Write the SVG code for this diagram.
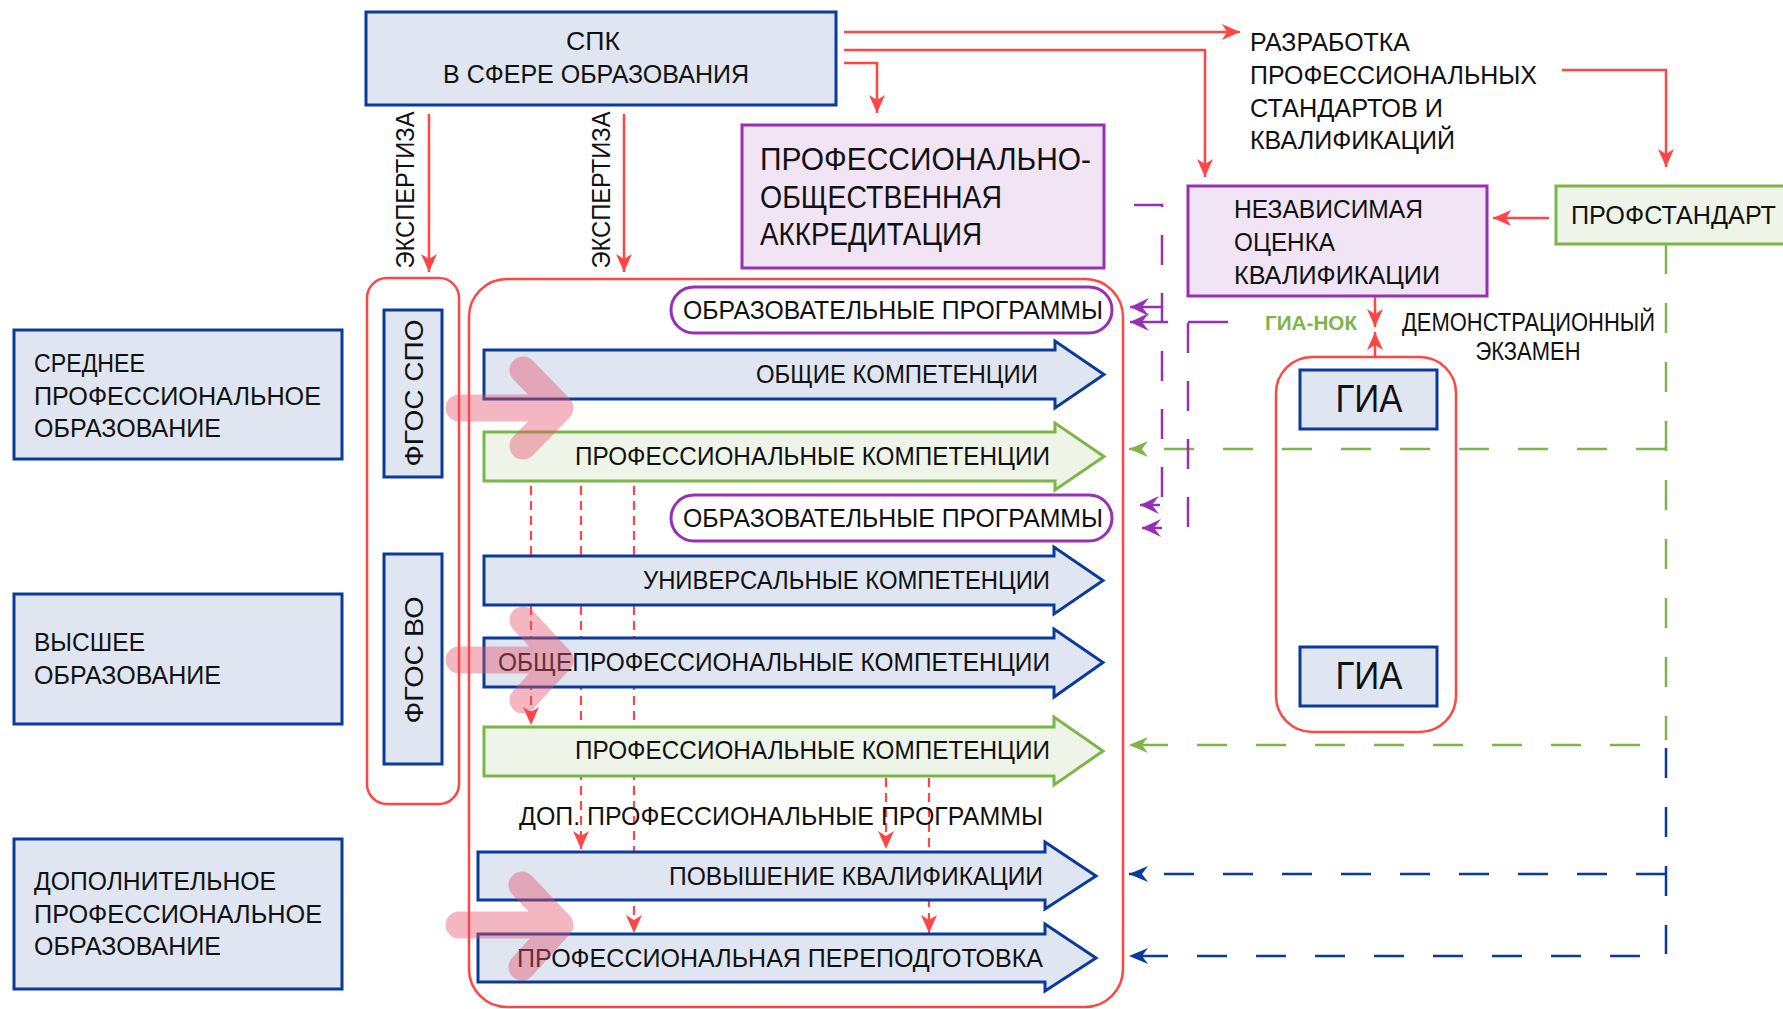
<svg xmlns="http://www.w3.org/2000/svg" width="1783" height="1009" viewBox="0 0 1783 1009">
<style>
text{font-family:"Liberation Sans",Arial,sans-serif;fill:#111;font-size:25px}
.f26{font-size:26px}
.f31{font-size:31px}
.f38{font-size:39px}
.nok{font-size:20px;font-weight:bold;fill:#7db548}
.bx{fill:#dfe6f2;stroke:#0a3a9a;stroke-width:3}
.gb{fill:#eef4e8;stroke:#7db548;stroke-width:3}
.pb{fill:#f1e4f5;stroke:#9630b4;stroke-width:3}
.pill{fill:#fff;stroke:#9630b4;stroke-width:3}
.rc{fill:none;stroke:#ff4646;stroke-width:2.5}
.rl{fill:none;stroke:#ff4646;stroke-width:2.5}
.rd{fill:none;stroke:#ff4646;stroke-width:2.2;stroke-dasharray:9 6}
.gd{fill:none;stroke:#7db548;stroke-width:2.5;stroke-dasharray:30 29}
.bd{fill:none;stroke:#0a3a9a;stroke-width:2.5;stroke-dasharray:30 29}
.pd{fill:none;stroke:#9630b4;stroke-width:2.5;stroke-dasharray:30 28}
.pl{fill:none;stroke:#9630b4;stroke-width:2.5}
.pk{fill:none;stroke:#e55169;stroke-width:27;stroke-linecap:round;stroke-linejoin:round}
</style>
<defs>
<marker id="mr" markerUnits="userSpaceOnUse" markerWidth="20" markerHeight="16" viewBox="0 0 20 16" refX="18" refY="8" orient="auto"><path d="M0,0 L18,8 L0,16 L5,8 z" fill="#ff4646"/></marker>
<marker id="mp" markerUnits="userSpaceOnUse" markerWidth="20" markerHeight="18" viewBox="0 0 20 18" refX="19" refY="9" orient="auto"><path d="M0,0 L19,9 L0,18 L7,9 z" fill="#9630b4"/></marker>
<marker id="mg" markerUnits="userSpaceOnUse" markerWidth="20" markerHeight="16" viewBox="0 0 20 16" refX="19" refY="8" orient="auto"><path d="M0,0 L19,8 L0,16 L6,8 z" fill="#7db548"/></marker>
<marker id="mb" markerUnits="userSpaceOnUse" markerWidth="20" markerHeight="16" viewBox="0 0 20 16" refX="19" refY="8" orient="auto"><path d="M0,0 L19,8 L0,16 L6,8 z" fill="#0a3a9a"/></marker>
</defs>

<!-- containers -->
<g id="container-fgos"><rect class="rc" x="367" y="278" width="92" height="526" rx="20"/></g>
<g id="container-main"><rect class="rc" x="469" y="279" width="654" height="728" rx="38"/></g>
<g id="container-gia"><rect class="rc" x="1276" y="357" width="180" height="375" rx="36"/></g>

<!-- connectors -->
<g id="connectors">
<path class="rl" d="M844,32 H1240" marker-end="url(#mr)"/>
<path class="rl" d="M844,50 H1205 V177" marker-end="url(#mr)"/>
<path class="rl" d="M844,63 H877 V113" marker-end="url(#mr)"/>
<path class="rl" d="M1562,70 H1666 V167" marker-end="url(#mr)"/>
<path class="rl" d="M1549,218 H1493" marker-end="url(#mr)"/>
<path class="rl" d="M429,114 V272" marker-end="url(#mr)"/>
<path class="rl" d="M624,114 V272" marker-end="url(#mr)"/>
<path class="rl" d="M1375,297 V327" marker-end="url(#mr)"/>
<path class="rl" d="M1375,357 V332" marker-end="url(#mr)"/>
<path class="rd" d="M531,486 V725" marker-end="url(#mr)"/>
<path class="rd" d="M581,486 V849" marker-end="url(#mr)"/>
<path class="rd" d="M634,486 V933" marker-end="url(#mr)"/>
<path class="rd" d="M886,778 V849" marker-end="url(#mr)"/>
<path class="rd" d="M929,778 V933" marker-end="url(#mr)"/>
<path class="gd" d="M1666,244 V740"/>
<path class="gd" d="M1666,449 H1129" marker-end="url(#mg)"/>
<path class="gd" d="M1640,745 H1129" marker-end="url(#mg)"/>
<path class="bd" d="M1666,748 V954"/>
<path class="bd" d="M1666,874 H1129" marker-end="url(#mb)"/>
<path class="bd" d="M1640,956 H1129" marker-end="url(#mb)"/>
<path class="pd" d="M1106,205 H1162 V505" stroke-dashoffset="30"/>
<path class="pl" d="M1162,307 H1130" marker-end="url(#mp)"/>
<path class="pl" d="M1228,322 H1188"/>
<path class="pl" d="M1168,322 H1130" marker-end="url(#mp)"/>
<path class="pd" d="M1188,323 V530"/>
<path class="pl" d="M1160,505 H1140" marker-end="url(#mp)"/>
<path class="pl" d="M1162,528 H1142" marker-end="url(#mp)"/>
</g>

<!-- nodes -->
<g id="spk">
<rect class="bx" x="366" y="12" width="470" height="93"/>
<text x="593" y="50" text-anchor="middle" textLength="54" lengthAdjust="spacingAndGlyphs">СПК</text>
<text x="596" y="83" text-anchor="middle" textLength="306" lengthAdjust="spacingAndGlyphs">В СФЕРЕ ОБРАЗОВАНИЯ</text>
</g>
<g id="ekspertiza-1"><text class="f26" transform="translate(414,190) rotate(-90)" text-anchor="middle" textLength="157" lengthAdjust="spacingAndGlyphs">ЭКСПЕРТИЗА</text></g>
<g id="ekspertiza-2"><text class="f26" transform="translate(610,190) rotate(-90)" text-anchor="middle" textLength="157" lengthAdjust="spacingAndGlyphs">ЭКСПЕРТИЗА</text></g>

<g id="razrabotka">
<text x="1250" y="51" textLength="160" lengthAdjust="spacingAndGlyphs">РАЗРАБОТКА</text>
<text x="1250" y="84" textLength="287" lengthAdjust="spacingAndGlyphs">ПРОФЕССИОНАЛЬНЫХ</text>
<text x="1250" y="117" textLength="193" lengthAdjust="spacingAndGlyphs">СТАНДАРТОВ И</text>
<text x="1250" y="149" textLength="205" lengthAdjust="spacingAndGlyphs">КВАЛИФИКАЦИЙ</text>
</g>

<g id="akkreditaciya">
<rect class="pb" x="742" y="125" width="362" height="143"/>
<text class="f31" x="760" y="170" textLength="331" lengthAdjust="spacingAndGlyphs">ПРОФЕССИОНАЛЬНО-</text>
<text class="f31" x="760" y="208" textLength="242" lengthAdjust="spacingAndGlyphs">ОБЩЕСТВЕННАЯ</text>
<text class="f31" x="760" y="245" textLength="222" lengthAdjust="spacingAndGlyphs">АККРЕДИТАЦИЯ</text>
</g>

<g id="nok">
<rect class="pb" x="1188" y="186" width="299" height="110"/>
<text x="1234" y="218" textLength="189" lengthAdjust="spacingAndGlyphs">НЕЗАВИСИМАЯ</text>
<text x="1234" y="251" textLength="101" lengthAdjust="spacingAndGlyphs">ОЦЕНКА</text>
<text x="1234" y="284" textLength="206" lengthAdjust="spacingAndGlyphs">КВАЛИФИКАЦИИ</text>
</g>

<g id="profstandart">
<rect class="gb" x="1556" y="186" width="240" height="58"/>
<text x="1571" y="224" textLength="205" lengthAdjust="spacingAndGlyphs">ПРОФСТАНДАРТ</text>
</g>

<g id="gia-nok-label"><text class="nok" x="1265" y="330" textLength="92" lengthAdjust="spacingAndGlyphs">ГИА-НОК</text></g>
<g id="demo-exam">
<text x="1402" y="331" textLength="253" lengthAdjust="spacingAndGlyphs">ДЕМОНСТРАЦИОННЫЙ</text>
<text x="1528" y="360" text-anchor="middle" textLength="105" lengthAdjust="spacingAndGlyphs">ЭКЗАМЕН</text>
</g>

<g id="gia-1">
<rect class="bx" x="1300" y="370" width="137" height="59"/>
<text class="f38" x="1369" y="412" text-anchor="middle" textLength="67" lengthAdjust="spacingAndGlyphs">ГИА</text>
</g>
<g id="gia-2">
<rect class="bx" x="1300" y="647" width="137" height="59"/>
<text class="f38" x="1369" y="689" text-anchor="middle" textLength="67" lengthAdjust="spacingAndGlyphs">ГИА</text>
</g>

<g id="spo">
<rect class="bx" x="14" y="330" width="328" height="129"/>
<text x="34" y="372" textLength="111" lengthAdjust="spacingAndGlyphs">СРЕДНЕЕ</text>
<text x="34" y="405" textLength="287" lengthAdjust="spacingAndGlyphs">ПРОФЕССИОНАЛЬНОЕ</text>
<text x="34" y="437" textLength="187" lengthAdjust="spacingAndGlyphs">ОБРАЗОВАНИЕ</text>
</g>
<g id="vo">
<rect class="bx" x="14" y="594" width="328" height="130"/>
<text x="34" y="651" textLength="111" lengthAdjust="spacingAndGlyphs">ВЫСШЕЕ</text>
<text x="34" y="684" textLength="187" lengthAdjust="spacingAndGlyphs">ОБРАЗОВАНИЕ</text>
</g>
<g id="dpo">
<rect class="bx" x="14" y="839" width="328" height="150"/>
<text x="34" y="890" textLength="242" lengthAdjust="spacingAndGlyphs">ДОПОЛНИТЕЛЬНОЕ</text>
<text x="34" y="923" textLength="288" lengthAdjust="spacingAndGlyphs">ПРОФЕССИОНАЛЬНОЕ</text>
<text x="34" y="955" textLength="187" lengthAdjust="spacingAndGlyphs">ОБРАЗОВАНИЕ</text>
</g>

<g id="fgos-spo">
<rect class="bx" x="384" y="310" width="58" height="167"/>
<text class="f26" transform="translate(423,393) rotate(-90)" text-anchor="middle" textLength="147" lengthAdjust="spacingAndGlyphs">ФГОС  СПО</text>
</g>
<g id="fgos-vo">
<rect class="bx" x="384" y="554" width="58" height="210"/>
<text class="f26" transform="translate(423,660) rotate(-90)" text-anchor="middle" textLength="127" lengthAdjust="spacingAndGlyphs">ФГОС  ВО</text>
</g>

<g id="op-1">
<rect class="pill" x="671" y="287" width="441" height="46" rx="23"/>
<text x="893" y="319" text-anchor="middle" textLength="420" lengthAdjust="spacingAndGlyphs">ОБРАЗОВАТЕЛЬНЫЕ ПРОГРАММЫ</text>
</g>
<g id="ok">
<polygon class="bx" points="484,350 1055,350 1055,341 1104,374.5 1055,408 1055,399 484,399"/>
<text x="1038" y="383" text-anchor="end" textLength="282" lengthAdjust="spacingAndGlyphs">ОБЩИЕ КОМПЕТЕНЦИИ</text>
</g>
<g id="pk-1">
<polygon class="gb" points="484,432 1055,432 1055,423 1104,456.5 1055,490 1055,481 484,481"/>
<text x="1050" y="465" text-anchor="end" textLength="475" lengthAdjust="spacingAndGlyphs">ПРОФЕССИОНАЛЬНЫЕ КОМПЕТЕНЦИИ</text>
</g>
<g id="op-2">
<rect class="pill" x="671" y="495" width="441" height="46" rx="23"/>
<text x="893" y="527" text-anchor="middle" textLength="420" lengthAdjust="spacingAndGlyphs">ОБРАЗОВАТЕЛЬНЫЕ ПРОГРАММЫ</text>
</g>
<g id="uk">
<polygon class="bx" points="484,556 1054,556 1054,547 1103,580.5 1054,614 1054,605 484,605"/>
<text x="1050" y="589" text-anchor="end" textLength="407" lengthAdjust="spacingAndGlyphs">УНИВЕРСАЛЬНЫЕ КОМПЕТЕНЦИИ</text>
</g>
<g id="opk">
<polygon class="bx" points="484,638 1054,638 1054,629 1103,662.5 1054,697 1054,687 484,687"/>
<text x="1050" y="671" text-anchor="end" textLength="552" lengthAdjust="spacingAndGlyphs">ОБЩЕПРОФЕССИОНАЛЬНЫЕ КОМПЕТЕНЦИИ</text>
</g>
<g id="pk-2">
<polygon class="gb" points="484,727 1054,727 1054,717 1103,751 1054,785 1054,776 484,776"/>
<text x="1050" y="759" text-anchor="end" textLength="475" lengthAdjust="spacingAndGlyphs">ПРОФЕССИОНАЛЬНЫЕ КОМПЕТЕНЦИИ</text>
</g>
<g id="dpp-label">
<text x="1043" y="825" text-anchor="end" textLength="524" lengthAdjust="spacingAndGlyphs">ДОП. ПРОФЕССИОНАЛЬНЫЕ ПРОГРАММЫ</text>
</g>
<g id="pkv">
<polygon class="bx" points="478,852 1045,852 1045,842 1096,876 1045,909 1045,900 478,900"/>
<text x="1043" y="885" text-anchor="end" textLength="374" lengthAdjust="spacingAndGlyphs">ПОВЫШЕНИЕ КВАЛИФИКАЦИИ</text>
</g>
<g id="pp">
<polygon class="bx" points="478,934 1045,934 1045,924 1096,958 1045,991 1045,982 478,982"/>
<text x="1043" y="967" text-anchor="end" textLength="526" lengthAdjust="spacingAndGlyphs">ПРОФЕССИОНАЛЬНАЯ ПЕРЕПОДГОТОВКА</text>
</g>

<!-- pink translucent arrows -->
<g id="pink-arrows" opacity="0.42">
<path class="pk" d="M459,408 H550 M523,370 L560,408 L523,446"/>
<path class="pk" d="M459,660 H550 M523,620 L560,660 L523,700"/>
<path class="pk" d="M459,925 H550 M522,885 L560,925 L522,967"/>
</g>
</svg>
